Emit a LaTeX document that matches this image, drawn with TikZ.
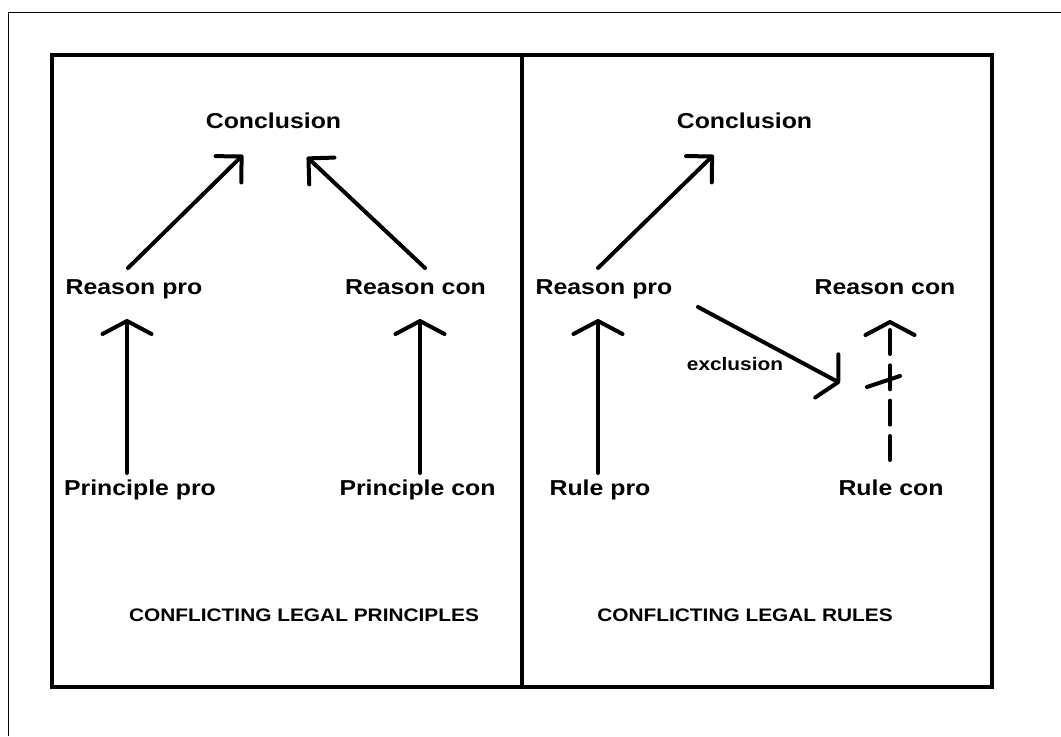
\documentclass[tikz,border=0pt]{standalone}
\usepackage{fontspec}
\setmainfont{Liberation Sans}[FakeStretch=1.15]
\usetikzlibrary{arrows.meta,calc}

\begin{document}
\begin{tikzpicture}[x=0.75pt,y=-0.75pt,
  lbl/.style={font=\fontsize{16.2}{19}\selectfont\bfseries, anchor=base, inner sep=0pt},
  small/.style={font=\fontsize{13.6}{16}\selectfont\bfseries, anchor=base, inner sep=0pt},
  panel/.style={line width=2.6pt},
  link/.style={line width=3pt, line cap=round, -{Straight Barb[length=13.8pt,width=27.6pt,round]}},
  uplink/.style={line width=3pt, line cap=round, -{Straight Barb[length=9.75pt,width=36.75pt,round]}},
  ruled/.style={uplink, dash pattern=on 18pt off 8.5pt}]
  \useasboundingbox (0,0) rectangle (1061,736);
  % sheet and the two panels
  \draw[line width=1.1pt] (8.5,736) -- (8.5,12.5) -- (1061,12.5);
  \draw[panel] (52,55) rectangle (992,687);
  \draw[panel] (522,55) -- (522,687);
  % principles
  \node[lbl] (concL) at (273.5,128) {Conclusion};
  \node[lbl] (rpL) at (134,294) {Reason pro};
  \node[lbl] (rcL) at (415.5,294) {Reason con};
  \node[lbl] (ppL) at (140,495) {Principle pro};
  \node[lbl] (pcL) at (417.5,495) {Principle con};
  \node[small] (capL) at (304,621) {CONFLICTING LEGAL PRINCIPLES};
  \draw[link] ([shift={(-6,-26)}]rpL.base) -- ([shift={(-30.5,27)}]concL.base);
  \draw[link] ([shift={(9.5,-26)}]rcL.base) -- ([shift={(33.5,29)}]concL.base);
  \draw[uplink] ([shift={(-13,-22)}]ppL.base) -- ([shift={(-7,25)}]rpL.base);
  \draw[uplink] ([shift={(2.5,-22)}]pcL.base) -- ([shift={(4.5,25)}]rcL.base);
  % rules
  \node[lbl] (concR) at (744.5,128) {Conclusion};
  \node[lbl] (rpR) at (604,294) {Reason pro};
  \node[lbl] (rcR) at (885,294) {Reason con};
  \node[lbl] (rlp) at (600,495) {Rule pro};
  \node[lbl] (rlc) at (891,495) {Rule con};
  \node[small] (excl) at (735,370) {exclusion};
  \node[small] (capR) at (745,621) {CONFLICTING LEGAL RULES};
  \draw[link] ([shift={(-6,-26)}]rpR.base) -- ([shift={(-31,27)}]concR.base);
  \draw[uplink] ([shift={(-2,-22)}]rlp.base) -- ([shift={(-6,25)}]rpR.base);
  \draw[ruled] ([shift={(-1,-35)}]rlc.base) -- ([shift={(5,26)}]rcR.base);
  \coordinate (cut) at ($(rlc.base)+(-1,-114)$);
  \draw[line width=3pt, line cap=round] ([shift={(-23,6)}]cut) -- ([shift={(10,-5)}]cut);
  \draw[uplink] ([shift={(94,13)}]rpR.base) -- ([shift={(-50,2)}]cut);
\end{tikzpicture}
\end{document}
